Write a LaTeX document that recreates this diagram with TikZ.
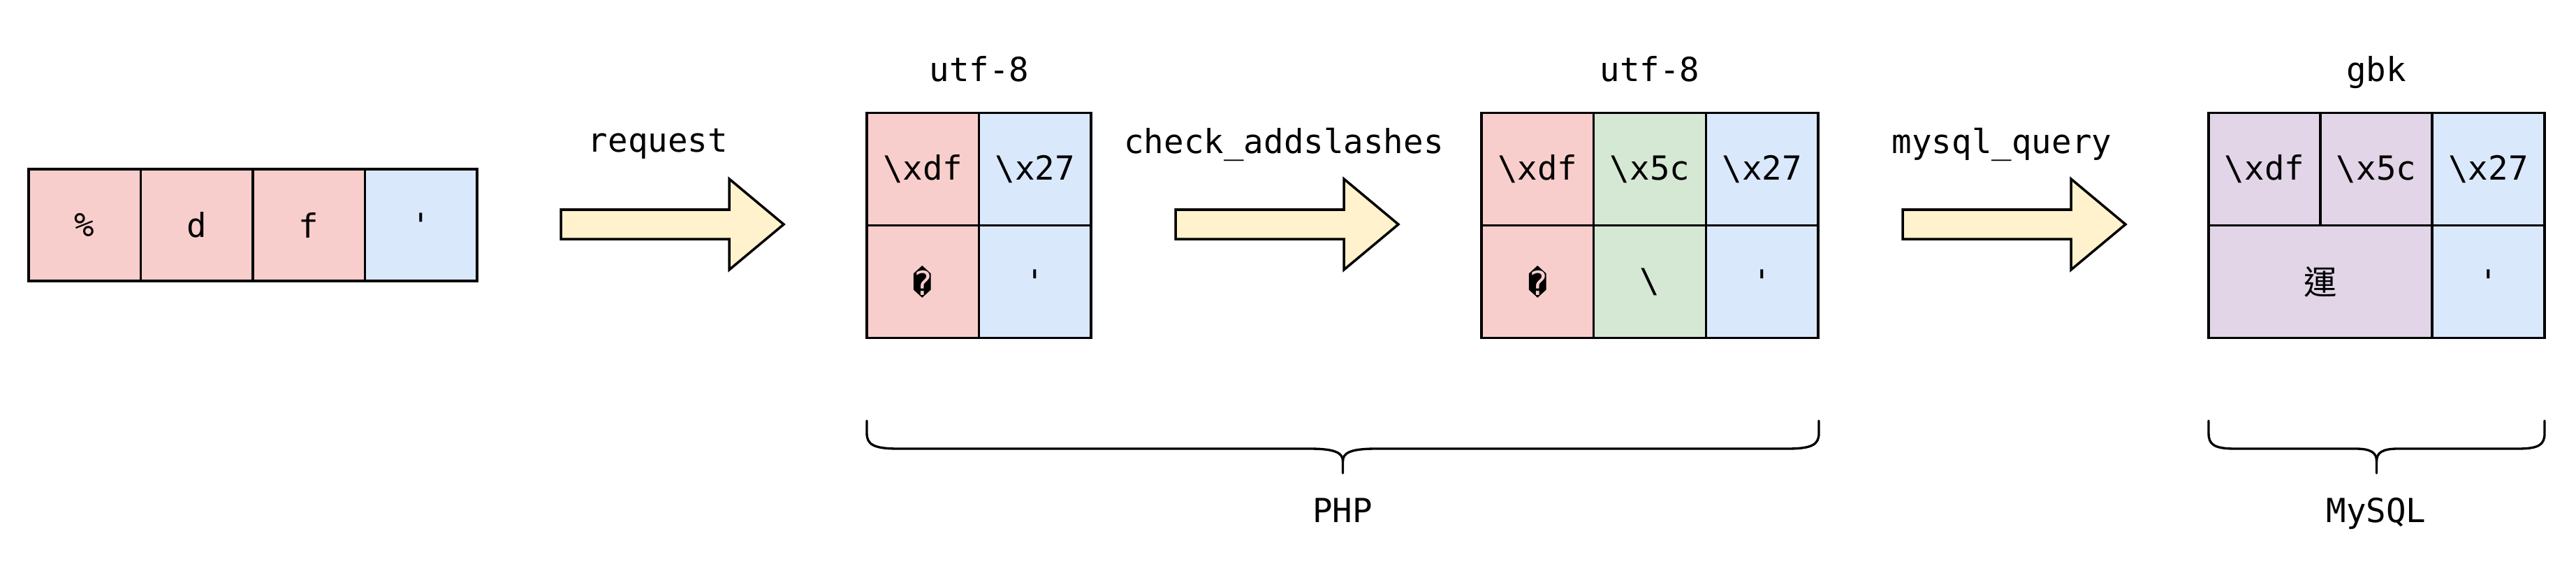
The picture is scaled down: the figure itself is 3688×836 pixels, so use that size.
\documentclass[tikz,border=0pt]{standalone}
\usepackage{fontspec}
\newfontfamily\codefont{DejaVu Sans Mono}
\newfontfamily\cjkfont{Noto Sans CJK TC}
\definecolor{cred}{HTML}{F8CECC}
\definecolor{cblue}{HTML}{DAE8FC}
\definecolor{cgreen}{HTML}{D5E8D4}
\definecolor{cpurple}{HTML}{E1D5E7}
\definecolor{carrow}{HTML}{FFF2CC}
\begin{document}
\begin{tikzpicture}[x=0.01cm,y=-0.01cm,
  txt/.style={font=\codefont\fontsize{13.5}{16}\selectfont, inner sep=0},
  cell/.style={draw, line width=1pt, inner sep=0, outer sep=0,
    minimum width=1.605cm, minimum height=1.61cm, txt},
  lbl/.style={txt, anchor=base},
  bracestyle/.style={line width=0.95pt, line cap=round},
  fatarrow/.pic={\draw[line width=1pt, fill=carrow, line join=miter]
    (0,-21) -- (241,-21) -- (241,-65) -- (319,0) -- (241,65) -- (241,21) -- (0,21) -- cycle;}
]
\useasboundingbox (0,0) rectangle (3688,836);

% input bytes
\node[cell, fill=cred, minimum height=1.6cm] (a1) at (121.25,322) {\%};
\node[cell, fill=cred, minimum height=1.6cm] (a2) at (281.75,322) {d};
\node[cell, fill=cred, minimum height=1.6cm] (a3) at (442.25,322) {f};
\node[cell, fill=cblue, minimum height=1.6cm] (a4) at (602.75,322) {'};

% arrows and labels
\pic at (803,321) {fatarrow};
\pic at (1683,321) {fatarrow};
\pic at (2724,321) {fatarrow};
\node[lbl] (lreq) at (942,217) {request};
\node[lbl] (lchk) at (1838,219) {check\_addslashes};
\node[lbl] (lmq) at (2866,219) {mysql\_query};

% utf-8 box 1
\node[lbl] (e1) at (1402,116) {utf-8};
\node[cell, fill=cred] (b11) at (1321.25,242) {\textbackslash xdf};
\node[cell, fill=cblue] (b12) at (1481.75,242) {\textbackslash x27};
\node[cell, fill=cred] (b21) at (1321.25,403) {\char"FFFD};
\node[cell, fill=cblue] (b22) at (1481.75,403) {'};

% utf-8 box 2
\node[lbl] (e2) at (2362,116) {utf-8};
\node[cell, fill=cred] (c11) at (2201.3,242) {\textbackslash xdf};
\node[cell, fill=cgreen] (c12) at (2362,242) {\textbackslash x5c};
\node[cell, fill=cblue] (c13) at (2522.7,242) {\textbackslash x27};
\node[cell, fill=cred] (c21) at (2201.3,403) {\char"FFFD};
\node[cell, fill=cgreen] (c22) at (2362,403) {\textbackslash};
\node[cell, fill=cblue] (c23) at (2522.7,403) {'};

% gbk box
\node[lbl] (e3) at (3402,116) {gbk};
\node[cell, fill=cpurple, minimum width=1.6cm] (d11) at (3242,242) {\textbackslash xdf};
\node[cell, fill=cpurple, minimum width=1.6cm] (d12) at (3402,242) {\textbackslash x5c};
\node[cell, fill=cblue, minimum width=1.61cm] (d13) at (3562.5,242) {\textbackslash x27};
\node[cell, fill=cpurple, minimum width=3.2cm] (d21) at (3322,403) {\cjkfont 運};
\node[cell, fill=cblue, minimum width=1.61cm] (d22) at (3562.5,403) {'};

% braces
\draw[bracestyle] (1241,602) -- (1241,620) .. controls (1241,636) and (1251,642) .. (1286,642)
  -- (1875,642) .. controls (1912,642) and (1922.5,648) .. (1922.5,660) -- (1922.5,677);
\draw[bracestyle] (2604,602) -- (2604,620) .. controls (2604,636) and (2594,642) .. (2559,642)
  -- (1970,642) .. controls (1933,642) and (1922.5,648) .. (1922.5,660);
\draw[bracestyle] (3162,602) -- (3162,620) .. controls (3162,636) and (3170,642) .. (3200,642)
  -- (3372,642) .. controls (3395,642) and (3402.5,648) .. (3402.5,660) -- (3402.5,677);
\draw[bracestyle] (3643,602) -- (3643,620) .. controls (3643,636) and (3635,642) .. (3605,642)
  -- (3433,642) .. controls (3410,642) and (3402.5,648) .. (3402.5,660);
\node[lbl] (php) at (1922,747) {PHP};
\node[lbl] (mysql) at (3402,747) {MySQL};
\end{tikzpicture}
\end{document}
